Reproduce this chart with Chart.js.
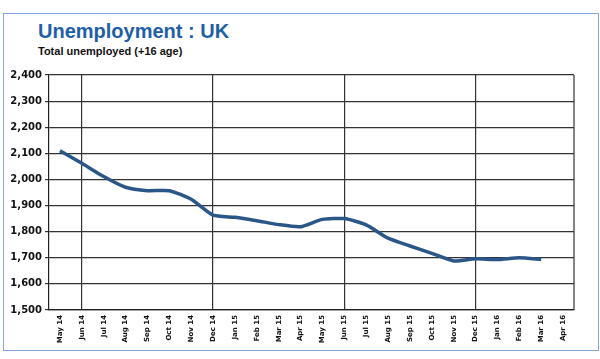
<!DOCTYPE html>
<html>
<head>
<meta charset="utf-8">
<script src="https://cdn.jsdelivr.net/npm/chart.js@4.4.1/dist/chart.umd.min.js"></script>
<style>
  html, body { margin: 0; padding: 0; background: #fff; }
  #wrap { position: relative; width: 600px; height: 359px; overflow: hidden; }
  #frame { position: absolute; left: 3px; top: 13px; width: 596px; height: 338px;
           border: 1px solid #86a9dc; box-sizing: border-box; }
  #title { position: absolute; left: 38px; top: 20px; font: bold 20px "Liberation Sans", Arial, sans-serif;
           color: #1f5fa8; white-space: nowrap; }
  #subtitle { position: absolute; left: 38px; top: 45px; font: bold 11px "Liberation Sans", Arial, sans-serif;
           color: #111; white-space: nowrap; }
  canvas { position: absolute; left: 0; top: 0; }
</style>
</head>
<body>
<div id="wrap">
  <div id="frame"></div>
  <div id="title">Unemployment : UK</div>
  <div id="subtitle">Total unemployed (+16 age)</div>
  <canvas id="c" width="600" height="359"></canvas>
</div>
<script>
const months = ["May 14","Jun 14","Jul 14","Aug 14","Sep 14","Oct 14","Nov 14","Dec 14",
                "Jan 15","Feb 15","Mar 15","Apr 15","May 15","Jun 15","Jul 15","Aug 15",
                "Sep 15","Oct 15","Nov 15","Dec 15","Jan 16","Feb 16","Mar 16","Apr 16"];
const unemployed = [2110, 2062, 2011, 1970, 1957, 1957, 1924, 1863,
                    1855, 1842, 1827, 1819, 1847, 1850, 1826, 1775,
                    1745, 1717, 1688, 1696, 1693, 1700, 1694, null];
const yMin = 1500, yMax = 2400, yStep = 100;
const majorMonths = ["Jun 14", "Dec 14", "Jun 15", "Dec 15"];

const frameRight = {
  id: 'frameRight',
  afterDraw(chart) {
    const {ctx, chartArea: a} = chart;
    ctx.save();
    ctx.strokeStyle = '#333';
    ctx.lineWidth = 1.2;
    ctx.beginPath();
    ctx.moveTo(a.right, a.top);
    ctx.lineTo(a.right, a.bottom);
    ctx.stroke();
    ctx.restore();
  }
};

new Chart(document.getElementById('c'), {
  type: 'line',
  data: {
    labels: months,
    datasets: [{
      data: unemployed,
      borderColor: '#2b5688',
      borderWidth: 3.5,
      pointRadius: 0,
      tension: 0.2,
      fill: false
    }]
  },
  options: {
    responsive: false,
    animation: false,
    layout: { padding: { left: 0, right: 26, top: 75, bottom: 0 } },
    plugins: { legend: { display: false }, tooltip: { enabled: false } },
    scales: {
      x: {
        offset: true,
        grid: {
          offset: false,
          drawTicks: false,
          lineWidth: 1.2,
          color: (c) => (c.tick && majorMonths.includes(months[c.index])) ? '#333' : 'rgba(0,0,0,0)'
        },
        border: { color: '#222', width: 1.2 },
        ticks: {
          autoSkip: false,
          minRotation: 90,
          maxRotation: 90,
          padding: 5,
          color: '#111',
          font: { family: '"DejaVu Sans", sans-serif', size: 7, weight: 'bold' }
        },
        afterFit: (s) => { s.height = 49; }
      },
      y: {
        min: yMin,
        max: yMax,
        ticks: {
          stepSize: yStep,
          padding: 3,
          color: '#111',
          font: { family: '"DejaVu Sans", sans-serif', size: 10, weight: 'bold' },
          callback: (v) => v.toLocaleString('en-US')
        },
        grid: { color: '#333', lineWidth: 1.2, tickLength: 4 },
        border: { color: '#222', width: 1.2 },
        afterFit: (s) => { s.width = 49; }
      }
    }
  },
  plugins: [frameRight]
});
</script>
</body>
</html>
